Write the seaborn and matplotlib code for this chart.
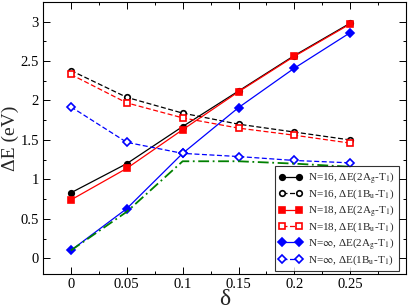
import numpy as np
import pandas as pd
import matplotlib
matplotlib.use("Agg")
import matplotlib.pyplot as plt
from matplotlib.ticker import MultipleLocator
import seaborn as sns

sns.set_style("ticks")
plt.rcParams['font.family'] = ['Liberation Serif', 'DejaVu Serif']
plt.rcParams['mathtext.fontset'] = 'stix'

delta = [0, 0.05, 0.1, 0.15, 0.2, 0.25]
n16_ag = [0.83, 1.20, 1.67, 2.12, 2.57, 2.98]
n16_bu = [2.38, 2.04, 1.84, 1.70, 1.60, 1.50]
n18_ag = [0.74, 1.14, 1.63, 2.11, 2.56, 2.97]
n18_bu = [2.33, 1.97, 1.78, 1.65, 1.56, 1.46]
ninf_ag = [0.10, 0.63, 1.33, 1.91, 2.41, 2.86]
ninf_bu = [1.92, 1.47, 1.33, 1.29, 1.24, 1.21]
green = [0.10, 0.59, 1.23, 1.23, 1.20, 1.16]

labels = [r'N=16, ΔE(2A$_\mathrm{g}$-T$_1$)',
          r'N=16, ΔE(1B$_\mathrm{u}$-T$_1$)',
          r'N=18, ΔE(2A$_\mathrm{g}$-T$_1$)',
          r'N=18, ΔE(1B$_\mathrm{u}$-T$_1$)',
          r'N=$\infty$, ΔE(2A$_\mathrm{g}$-T$_1$)',
          r'N=$\infty$, ΔE(1B$_\mathrm{u}$-T$_1$)']

fig = plt.figure(figsize=(4.09, 3.08), dpi=100)
ax = fig.add_axes([0.105, 0.11, 0.888, 0.884])

series = [
    (n16_ag, 'black', 'o', True, '-'),
    (n16_bu, 'black', 'o', False, (0, (4, 2))),
    (n18_ag, 'red', 's', True, '-'),
    (n18_bu, 'red', 's', False, (0, (4, 2))),
    (ninf_ag, 'blue', 'D', True, '-'),
    (ninf_bu, 'blue', 'D', False, (0, (4, 2))),
]
for (vals, col, mk, filled, ls), lab in zip(series, labels):
    sns.lineplot(x=delta, y=vals, ax=ax, color=col, marker=mk, linestyle=ls,
                 linewidth=0.9, markersize=4.0 if mk != 'D' else 3.8,
                 markerfacecolor=col if filled else 'white',
                 markeredgecolor=col, markeredgewidth=1.2, label=lab)

sns.lineplot(x=delta, y=green, ax=ax, color='#008000', linestyle=(0, (6, 2, 1, 2)),
             linewidth=1.3, legend=False)

ax.set_xlim(-0.025, 0.3)
ax.set_ylim(-0.2, 3.25)
ax.xaxis.set_minor_locator(MultipleLocator(0.025))
ax.yaxis.set_minor_locator(MultipleLocator(0.25))
ax.set_xticks(delta)
ax.set_xticklabels(['0', '0.05', '0.1', '0.15', '0.2', '0.25'])
ax.set_yticks([0, 0.5, 1, 1.5, 2, 2.5, 3])
ax.set_yticklabels(['0', '0.5', '1', '1.5', '2', '2.5', '3'])
ax.tick_params(which='both', direction='in', top=True, right=True, labelsize=10.5,
               colors='black')
ax.tick_params(axis='x', pad=3)
ax.tick_params(axis='y', pad=3)
ax.tick_params(which='major', length=5, width=0.7)
ax.tick_params(which='minor', length=2.5, width=0.7)
for s in ax.spines.values():
    s.set_linewidth(0.8)
    s.set_color('black')

ax.set_xlabel('δ', fontsize=17, labelpad=-2)
ax.set_ylabel('ΔE (eV)', fontsize=14, labelpad=1)

leg = ax.legend(loc='lower right', fontsize=8, numpoints=2, frameon=True, fancybox=False,
                edgecolor='black', handlelength=2.1, handletextpad=0.5,
                labelspacing=0.15, borderpad=0.35, borderaxespad=0.0,
                bbox_to_anchor=(0.98, 0.012))
leg.get_frame().set_linewidth(0.8)

fig.savefig('out.png', dpi=100)
